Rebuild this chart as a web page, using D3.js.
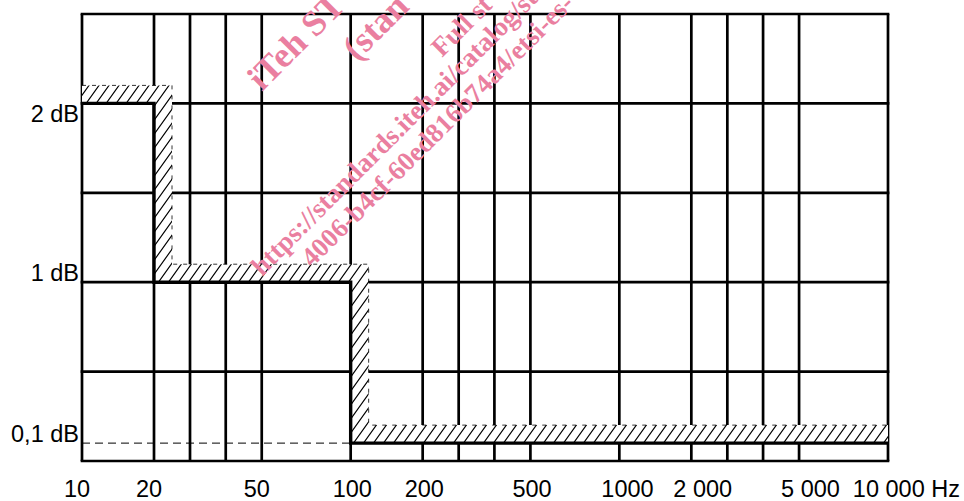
<!DOCTYPE html>
<html><head><meta charset="utf-8">
<script src="https://cdn.jsdelivr.net/npm/d3@7"></script>
<style>body{margin:0;background:#fff}svg{display:block}</style>
</head><body>
<svg id="chart" width="964" height="501"></svg>
<script>
// ---- data ----
const gridDecades = [10, 100, 1000];
const gridMantissas = [1, 2, 3, 4, 5];
const freqMax = 10000;
const freqTicks = [10, 20, 50, 100, 200, 500, 1000, 2000, 5000, 10000];
const freqLabels = ["10", "20", "50", "100", "200", "500", "1000", "2 000", "5 000", "10 000 Hz"];
const dbGrid = [0, 0.5, 1, 1.5, 2, 2.5];
const dbTicks = [2, 1, 0.1];
const dbLabels = ["2 dB", "1 dB", "0,1 dB"];
const limitFreqs = [10, 20, 100, 10000];
const limitLevels = [2, 1, 0.1, 0.1];
const refLevel = 0.1;
const watermarkLines = ["iTeh STANDARD PREVIEW", "(standards.iteh.ai)", "Full standard:",
  "https://standards.iteh.ai/catalog/standards/sist/", "4006-b4cf-60ed816b74a4/etsi-es-2"];

// ---- layout ----
const W = 964, H = 501;
const m = {left: 82, right: 76, top: 14, bottom: 40};
const svg = d3.select("#chart");
const FONT = "'Liberation Sans', Arial, sans-serif";

// frequency axis: decades on a log scale, schematic spacing inside each decade
const decadeX = d3.scaleLog().domain([10, freqMax]).range([m.left, W - m.right]);
const mantissa = d3.scaleLinear().domain([1, 2, 3, 4, 5, 10]).range([0, 0.268, 0.402, 0.535, 0.669, 1]);
const decW = decadeX(100) - decadeX(10);
function x(f) {
  const e = Math.floor(Math.log10(f) + 1e-9);
  const base = Math.pow(10, e);
  return decadeX(base) + mantissa(f / base) * decW;
}
const y = d3.scaleLinear().domain([0, 2.5]).range([H - m.bottom, m.top]);

const gridFreqs = gridDecades.flatMap(d => gridMantissas.map(k => d * k)).concat([freqMax]);

// ---- grid ----
const g = svg.append("g");
g.selectAll("line.v").data(gridFreqs).join("line")
  .attr("x1", d => x(d)).attr("x2", d => x(d))
  .attr("y1", y(2.5)).attr("y2", y(0))
  .attr("stroke", "#000").attr("stroke-width", 2.7);
g.selectAll("line.h").data(dbGrid).join("line")
  .attr("x1", x(10) - 1.35).attr("x2", x(freqMax) + 1.35)
  .attr("y1", d => y(d)).attr("y2", d => y(d))
  .attr("stroke", "#000").attr("stroke-width", 2.7);

// ---- hatch pattern ----
const defs = svg.append("defs");
const pat = defs.append("pattern").attr("id", "hatch").attr("patternUnits", "userSpaceOnUse")
  .attr("width", 10).attr("height", 14);
pat.append("rect").attr("width", 10).attr("height", 14).attr("fill", "#fff");
pat.append("path").attr("d", "M-11,15.4 L1,-1.4 M-1,15.4 L11,-1.4 M9,15.4 L21,-1.4")
  .attr("stroke", "#000").attr("stroke-width", 1.2);

// limit step vertices
const pts = limitFreqs.map((f, i) => [x(f), y(limitLevels[i])]);
const inner = [];
for (let i = 0; i < pts.length - 1; i++) {
  inner.push([pts[i][0], pts[i][1]]);
  inner.push([pts[i + 1][0], pts[i][1]]);
}
const band = 18;
const n = inner.length;
const outer = inner.map((p, i) => [(i === 0 || i === n - 1) ? p[0] : p[0] + band, p[1] - band]);

const poly = inner.concat(outer.slice().reverse());
svg.append("path").attr("d", "M" + poly.map(p => p.join(",")).join("L") + "Z")
  .attr("fill", "url(#hatch)").attr("stroke", "none");
svg.append("path").attr("d", d3.line()(outer))
  .attr("fill", "none").attr("stroke", "#000").attr("stroke-width", 0.8).attr("stroke-dasharray", "4,6");

// reference dashed line at 0.1 dB
svg.append("line")
  .attr("x1", x(10)).attr("x2", x(limitFreqs[2]))
  .attr("y1", y(refLevel)).attr("y2", y(refLevel))
  .attr("stroke", "#000").attr("stroke-width", 1).attr("stroke-dasharray", "8,5");

// limit line
svg.append("path").attr("d", d3.line()(inner))
  .attr("fill", "none").attr("stroke", "#000").attr("stroke-width", 3.4);

// ---- labels ----
svg.selectAll("text.yl").data(dbTicks).join("text")
  .attr("x", m.left - 3)
  .attr("y", (d, i) => i === 0 ? y(d) + 19 : y(d) - 1)
  .attr("text-anchor", "end")
  .attr("font-family", FONT).attr("font-size", 23.5).attr("fill", "#000")
  .text((d, i) => dbLabels[i]);

svg.selectAll("text.xl").data(freqTicks).join("text")
  .attr("y", H - m.bottom + 36)
  .attr("font-family", FONT).attr("font-size", 23.5).attr("fill", "#000")
  .text((d, i) => freqLabels[i])
  .attr("x", function(d) {
    const w = this.getComputedTextLength();
    return Math.min(x(d) - 18, W - 4 - w);
  });

// ---- watermark (only the part that runs inside the picture, as in the reference) ----
const wm = [
  {x: 262, y: 92, s: 36}, {x: 357, y: 62, s: 36}, {x: 442, y: 58, s: 27},
  {x: 262, y: 277, s: 27}, {x: 312, y: 268, s: 27}
];
const ang = 45 * Math.PI / 180;
svg.append("g").selectAll("text").data(watermarkLines).join("text")
  .attr("transform", (d, i) => `translate(${wm[i].x},${wm[i].y}) rotate(-45)`)
  .attr("font-family", "'Liberation Serif', 'Times New Roman', serif")
  .attr("font-weight", "bold").attr("font-size", (d, i) => wm[i].s)
  .attr("fill", "#ea7fa0")
  .text(d => d)
  .each(function(d, i) {
    const el = d3.select(this);
    let s = d;
    while (s.length > 1) {
      el.text(s);
      const L = this.getComputedTextLength();
      if (wm[i].y - Math.sin(ang) * L >= 0) break;
      s = s.slice(0, -1);
    }
  });
</script>
</body></html>
